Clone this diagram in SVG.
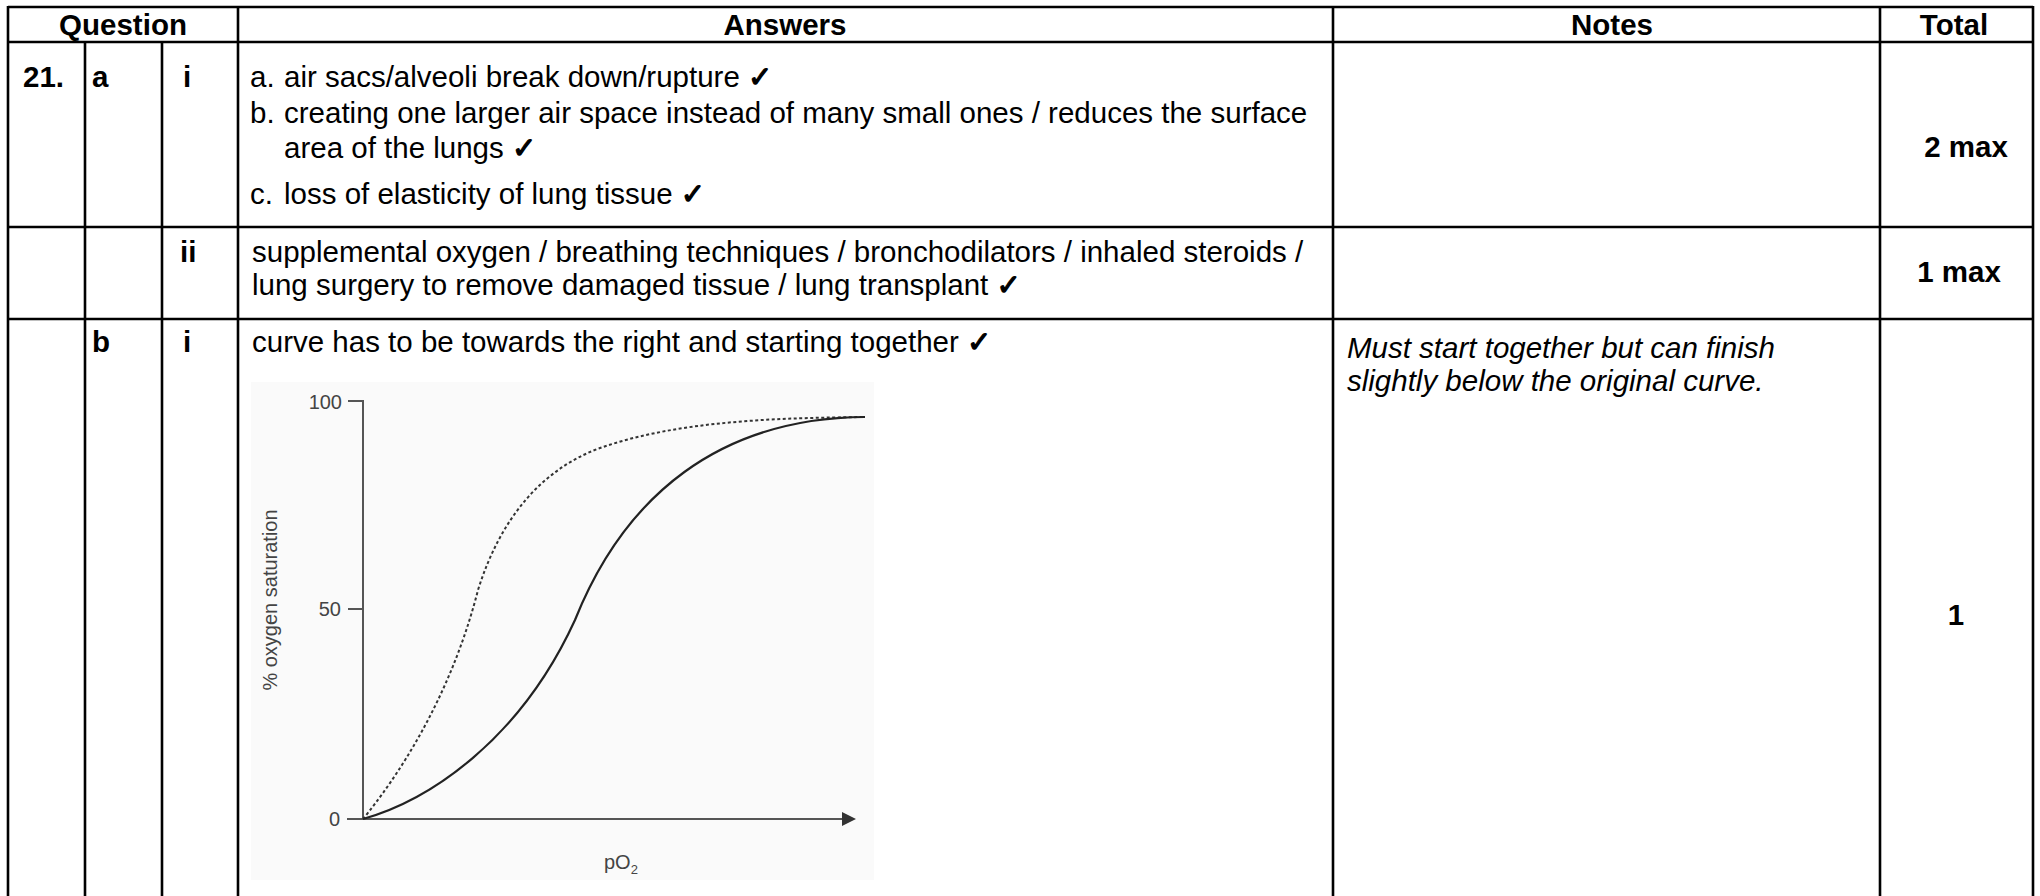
<svg xmlns="http://www.w3.org/2000/svg" width="2040" height="896" viewBox="0 0 2040 896">
<style>
.t{font-family:"Liberation Sans","DejaVu Sans",sans-serif;font-size:29.5px;fill:#000}
.b{font-weight:bold}
.i{font-style:italic}
.c{text-anchor:middle}
.ck{font-family:"DejaVu Sans",sans-serif;font-weight:bold;font-size:29px;stroke:#000;stroke-width:1.2}
.g{stroke:#000;stroke-width:2.6;fill:none}
.gt{font-family:"Liberation Sans","DejaVu Sans",sans-serif;font-size:20px;fill:#444}
.ax{stroke:#555;stroke-width:2;fill:none}
</style>
<defs>
<marker id="arr" markerWidth="14" markerHeight="14" refX="12" refY="7" orient="auto" markerUnits="userSpaceOnUse">
<path d="M0,0 L14,7 L0,14 Z" fill="#333"/>
</marker>
</defs>
<rect width="2040" height="896" fill="#fff"/>
<g id="grid" class="g">
<line x1="8" y1="7" x2="2033" y2="7"/>
<line x1="8" y1="42" x2="2033" y2="42"/>
<line x1="8" y1="227" x2="2033" y2="227"/>
<line x1="8" y1="319" x2="2033" y2="319"/>
<line x1="8" y1="6" x2="8" y2="896"/>
<line x1="85" y1="42" x2="85" y2="896"/>
<line x1="162" y1="42" x2="162" y2="896"/>
<line x1="238" y1="6" x2="238" y2="896"/>
<line x1="1333" y1="6" x2="1333" y2="896"/>
<line x1="1880" y1="6" x2="1880" y2="896"/>
<line x1="2033" y1="6" x2="2033" y2="896"/>
</g>
<g id="header" class="t b c">
<text x="123" y="35">Question</text>
<text x="785" y="35">Answers</text>
<text x="1612" y="35">Notes</text>
<text x="1954" y="35">Total</text>
</g>
<g id="row-21a-i" class="t">
<text class="b" x="23" y="87">21.</text>
<text class="b" x="92" y="87">a</text>
<text class="b" x="183" y="87">i</text>
<text x="250" y="87">a.</text>
<text x="284" y="87">air sacs/alveoli break down/rupture <tspan class="ck">✓</tspan></text>
<text x="250" y="123">b.</text>
<text x="284" y="123">creating one larger air space instead of many small ones / reduces the surface</text>
<text x="284" y="158">area of the lungs <tspan class="ck">✓</tspan></text>
<text x="250" y="204">c.</text>
<text x="284" y="204">loss of elasticity of lung tissue <tspan class="ck">✓</tspan></text>
<text class="b c" x="1966" y="157">2 max</text>
</g>
<g id="row-a-ii" class="t">
<text class="b" x="180" y="262">ii</text>
<text x="252" y="262">supplemental oxygen / breathing techniques / bronchodilators / inhaled steroids /</text>
<text x="252" y="295">lung surgery to remove damaged tissue / lung transplant <tspan class="ck">✓</tspan></text>
<text class="b c" x="1959" y="282">1 max</text>
</g>
<g id="row-b-i" class="t">
<text class="b" x="92" y="352">b</text>
<text class="b" x="183" y="352">i</text>
<text x="252" y="352">curve has to be towards the right and starting together <tspan class="ck">✓</tspan></text>
<text class="i" x="1347" y="358">Must start together but can finish</text>
<text class="i" x="1347" y="391">slightly below the original curve.</text>
<text class="b c" x="1956" y="625">1</text>
</g>
<g id="graph">
<rect x="251" y="382" width="623" height="498" fill="#fafafa"/>
<path class="ax" d="M348,401 H363 V819"/>
<line class="ax" x1="348" y1="609" x2="363" y2="609"/>
<line class="ax" x1="347" y1="819" x2="854" y2="819" marker-end="url(#arr)"/>
<text class="gt" x="342" y="409" text-anchor="end">100</text>
<text class="gt" x="341" y="616" text-anchor="end">50</text>
<text class="gt" x="340" y="826" text-anchor="end">0</text>
<text class="gt" x="604" y="869">pO<tspan font-size="13" dy="5">2</tspan></text>
<text class="gt" font-size="21" x="0" y="0" text-anchor="middle" transform="translate(277,600) rotate(-90)">% oxygen saturation</text>
<path d="M363,819 C395,780 450,700 478,590 C500,520 540,470 600,448 C680,420 780,418 865,417" fill="none" stroke="#333" stroke-width="2" stroke-dasharray="3,2.5"/>
<path d="M363,819 C430,800 520,740 575,620 C625,495 720,418 865,417" fill="none" stroke="#222" stroke-width="2.2"/>
</g>
</svg>
